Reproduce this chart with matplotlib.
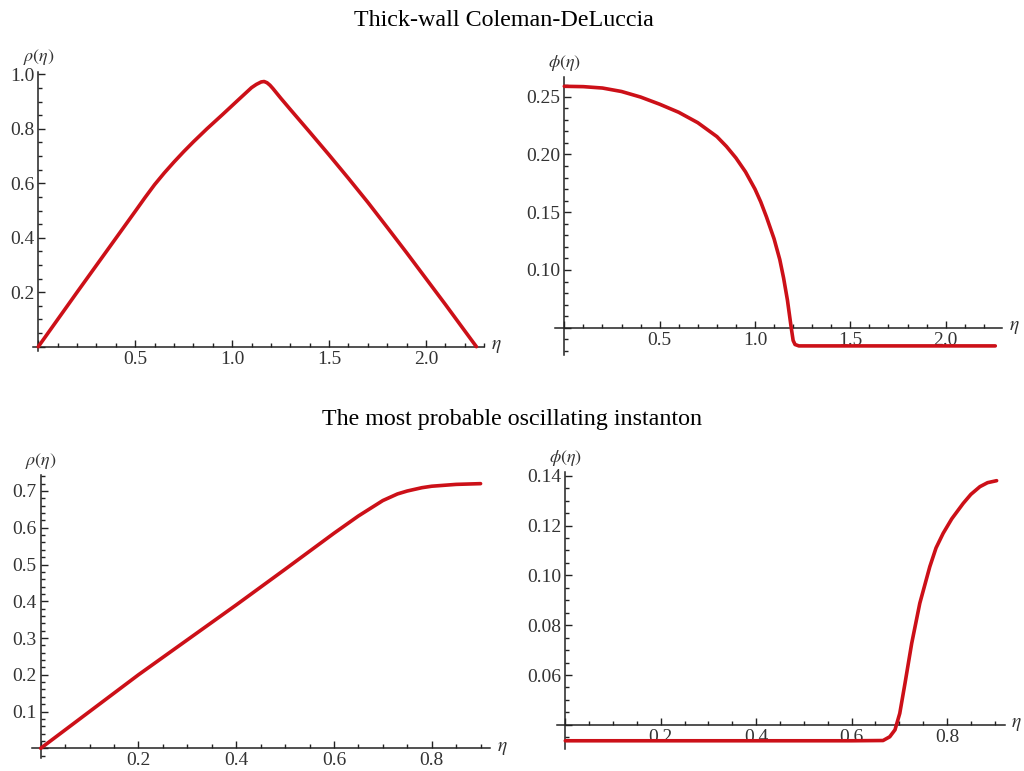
import matplotlib
matplotlib.use("Agg")
from matplotlib import pyplot as plt
from matplotlib.ticker import MultipleLocator, FuncFormatter
import numpy as np

# thick-wall CdL : scale factor rho(eta)
cdl_eta_rho = [0.0, 0.2, 0.4, 0.5, 0.55, 0.6, 0.65, 0.7, 0.75, 0.8, 0.87, 0.95, 1.03, 1.1, 1.125,
               1.15, 1.165, 1.18, 1.195, 1.21, 1.25, 1.3, 1.4, 1.5, 1.6, 1.7, 1.8, 1.9, 2.0, 2.1,
               2.2, 2.26]
cdl_rho = [0.0, 0.2, 0.398, 0.497, 0.547, 0.595, 0.638, 0.678, 0.716, 0.752, 0.8, 0.852, 0.905,
           0.951, 0.963, 0.972, 0.9735, 0.969, 0.96, 0.948, 0.913, 0.871, 0.788, 0.704, 0.618,
           0.53, 0.438, 0.345, 0.25, 0.155, 0.058, 0.0]

# thick-wall CdL : field phi(eta)
cdl_eta_phi = [0.0, 0.1, 0.2, 0.3, 0.4, 0.5, 0.6, 0.7, 0.8, 0.85, 0.9, 0.95, 1.0, 1.03, 1.06,
               1.1, 1.13, 1.15, 1.17, 1.19, 1.2, 1.21, 1.23, 1.5, 2.0, 2.26]
cdl_phi = [0.259, 0.2587, 0.2575, 0.2545, 0.2497, 0.2435, 0.2365, 0.2275, 0.2155, 0.207, 0.197,
           0.185, 0.170, 0.159, 0.146, 0.127, 0.109, 0.093, 0.074, 0.05, 0.039, 0.0355, 0.0343,
           0.0343, 0.0343, 0.0343]

# oscillating instanton : rho(eta)
osc_eta_rho = [0.0, 0.1, 0.2, 0.3, 0.4, 0.5, 0.6, 0.65, 0.7, 0.73, 0.75, 0.78, 0.8, 0.85, 0.9]
osc_rho = [0.0, 0.1, 0.2, 0.295, 0.39, 0.487, 0.585, 0.632, 0.674, 0.692, 0.7, 0.709, 0.713,
           0.718, 0.72]

# oscillating instanton : phi(eta)
osc_eta_phi = [0.0, 0.3, 0.6, 0.666, 0.68, 0.691, 0.701, 0.712, 0.726, 0.743, 0.764, 0.777,
               0.792, 0.81, 0.834, 0.85, 0.869, 0.885, 0.904]
osc_phi = [0.0336, 0.0336, 0.0336, 0.0337, 0.0352, 0.038, 0.0446, 0.0567, 0.0727, 0.0888,
           0.1035, 0.111, 0.1169, 0.1227, 0.1289, 0.1325, 0.1356, 0.1372, 0.138]

line_col = "#cc1018"
tick_col = "#333333"
W, H = 1024, 771

plt.rcParams['font.family'] = ['Liberation Serif', 'DejaVu Serif']
plt.rcParams['mathtext.fontset'] = 'stix'

fig = plt.figure(figsize=(W / 100, H / 100), dpi=100)


def make_axes(ref_x, ref_y, xlim, ylim):
    # ref_x = ((x0, px0), (x1, px1)), ref_y likewise in image pixels (top down)
    (x0, px0), (x1, px1) = ref_x
    (y0, py0), (y1, py1) = ref_y
    sx = (px1 - px0) / (x1 - x0)
    sy = (py1 - py0) / (y1 - y0)
    left = px0 + (xlim[0] - x0) * sx
    right = px0 + (xlim[1] - x0) * sx
    top = py0 + (ylim[1] - y0) * sy
    bottom = py0 + (ylim[0] - y0) * sy
    ax = fig.add_axes([left / W, 1 - bottom / H, (right - left) / W, (bottom - top) / H])
    ax.set_xlim(*xlim)
    ax.set_ylim(*ylim)
    return ax


def style(ax, y_origin, xmaj, xmin, ymaj, ymin, xfmt, yfmt, ylab):
    ax.patch.set_alpha(0)
    for s in ['top', 'right']:
        ax.spines[s].set_visible(False)
    ax.spines['left'].set_position(('data', 0))
    ax.spines['bottom'].set_position(('data', y_origin))
    for s in ['left', 'bottom']:
        ax.spines[s].set_linewidth(1.1)
        ax.spines[s].set_color('#222222')
    ax.xaxis.set_major_locator(MultipleLocator(xmaj))
    ax.xaxis.set_minor_locator(MultipleLocator(xmin))
    ax.yaxis.set_major_locator(MultipleLocator(ymaj))
    ax.yaxis.set_minor_locator(MultipleLocator(ymin))
    ax.xaxis.set_major_formatter(FuncFormatter(
        lambda v, p: '' if abs(v) < 1e-9 else xfmt.format(v)))
    ax.yaxis.set_major_formatter(FuncFormatter(
        lambda v, p: '' if abs(v - y_origin) < 1e-9 else yfmt.format(v)))
    ax.tick_params(which='both', direction='in', colors='#222222', labelcolor=tick_col,
                   labelsize=14, width=1.0)
    ax.tick_params(which='major', length=5)
    ax.tick_params(which='minor', length=3)
    ax.tick_params(axis='x', pad=3)
    ax.tick_params(axis='y', pad=3)
    xl = ax.get_xlim()
    yl = ax.get_ylim()
    ax.text(0, yl[1] + (yl[1] - yl[0]) * 0.015, ylab, ha='center', va='bottom',
            fontsize=13, color=tick_col, clip_on=False)
    ax.text(xl[1] + (xl[1] - xl[0]) * 0.015, y_origin, r'$\eta$', ha='left', va='center',
            fontsize=14, color=tick_col, clip_on=False)


rho_lab = r'$\rho(\eta)$'
phi_lab = r'$\phi(\eta)$'

# top left
ax1 = make_axes(((0, 38.3), (2.0, 426.0)), ((0, 346.7), (1.0, 74.3)), (-0.027, 2.30), (-0.015, 1.01))
ax1.plot(cdl_eta_rho, cdl_rho, color=line_col, lw=2.6, solid_capstyle='round',
         solid_joinstyle='round', zorder=5)
style(ax1, 0.0, 0.5, 0.1, 0.2, 0.05, '{:.1f}', '{:.1f}', rho_lab)

# top right
ax2 = make_axes(((0, 564.3), (1.0, 755.0)), ((0.25, 96.7), (0.10, 270.0)), (-0.047, 2.295), (0.026, 0.267))
ax2.plot(cdl_eta_phi, cdl_phi, color=line_col, lw=2.6, solid_capstyle='round',
         solid_joinstyle='round', zorder=5)
style(ax2, 0.05, 0.5, 0.1, 0.05, 0.01, '{:.1f}', '{:.2f}', phi_lab)

# bottom left
ax3 = make_axes(((0, 40.7), (0.8, 431.7)), ((0, 748.3), (0.7, 491.0)), (-0.018, 0.919), (-0.027, 0.743))
ax3.plot(osc_eta_rho, osc_rho, color=line_col, lw=2.6, solid_capstyle='round',
         solid_joinstyle='round', zorder=5)
style(ax3, 0.0, 0.2, 0.05, 0.1, 0.02, '{:.1f}', '{:.1f}', rho_lab)

# bottom right
ax4 = make_axes(((0, 565.3), (0.8, 947.0)), ((0.14, 475.7), (0.06, 675.0)), (-0.017, 0.921), (0.0304, 0.1416))
ax4.plot(osc_eta_phi, osc_phi, color=line_col, lw=2.6, solid_capstyle='round',
         solid_joinstyle='round', zorder=5)
style(ax4, 0.04, 0.2, 0.05, 0.02, 0.005, '{:.1f}', '{:.2f}', phi_lab)

fig.text(504 / W, 1 - 21 / H, 'Thick-wall Coleman-DeLuccia', ha='center', va='center', fontsize=17.3)
fig.text(512 / W, 1 - 420 / H, 'The most probable oscillating instanton', ha='center', va='center',
         fontsize=17.3)

fig.savefig('out.png', dpi=100)
